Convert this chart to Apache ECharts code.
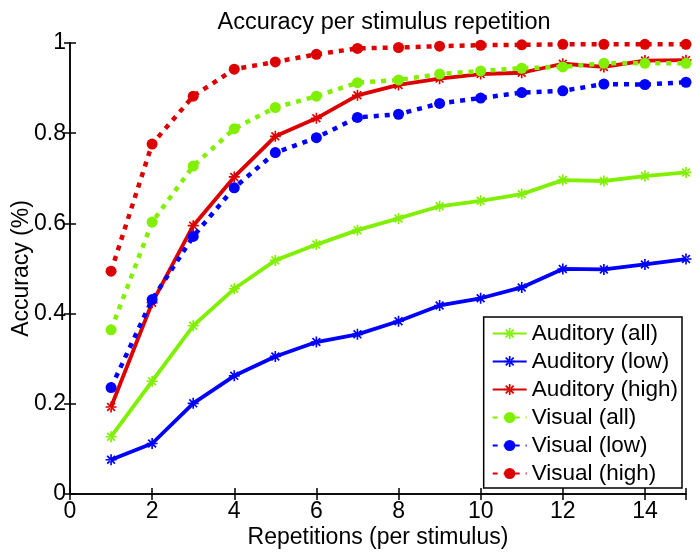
<!DOCTYPE html>
<html><head><meta charset="utf-8">
<script src="https://cdn.jsdelivr.net/npm/echarts@6/dist/echarts.min.js"></script>
<style>html,body{margin:0;padding:0;background:#fff}#c{width:700px;height:553px}</style>
</head><body><div id="c"></div>
<script>
var repetitions = [1,2,3,4,5,6,7,8,9,10,11,12,13,14,15];
var auditoryAll  = [0.127,0.250,0.373,0.455,0.518,0.553,0.585,0.611,0.638,0.650,0.665,0.696,0.694,0.705,0.713];
var auditoryLow  = [0.076,0.112,0.201,0.262,0.305,0.337,0.354,0.383,0.418,0.434,0.458,0.499,0.498,0.509,0.521];
var auditoryHigh = [0.193,0.424,0.595,0.703,0.793,0.833,0.884,0.907,0.921,0.931,0.934,0.954,0.947,0.961,0.962];
var visualAll    = [0.364,0.603,0.727,0.810,0.857,0.882,0.912,0.918,0.931,0.938,0.944,0.947,0.955,0.955,0.955];
var visualLow    = [0.236,0.431,0.571,0.679,0.757,0.790,0.835,0.842,0.866,0.878,0.890,0.894,0.909,0.908,0.913];
var visualHigh   = [0.494,0.776,0.882,0.942,0.958,0.975,0.988,0.990,0.993,0.995,0.996,0.997,0.997,0.997,0.997];
var seriesNames = ['Auditory (all)','Auditory (low)','Auditory (high)','Visual (all)','Visual (low)','Visual (high)'];

var GREEN = '#80f000', BLUE = '#0000ff', RED = '#dd0000';
var star = 'path://M-0.9,-6H0.9V6H-0.9Z M-6,-0.9H6V0.9H-6Z M-4.9,-3.6L-3.6,-4.9L4.9,3.6L3.6,4.9Z M4.9,-3.6L3.6,-4.9L-4.9,3.6L-3.6,4.9Z';
function pairs(ys){ return repetitions.map(function(x,i){ return [x, ys[i]]; }); }
function mk(name, ys, color, dotted){
  return {
    name: name, type: 'line', data: pairs(ys),
    symbol: dotted ? 'circle' : star,
    symbolSize: dotted ? 11 : 11,
    showAllSymbol: true,
    lineStyle: { color: color, width: dotted ? 4.5 : 3.8, type: dotted ? [5,6] : 'solid' },
    itemStyle: { color: color, borderWidth: 0 },
    emphasis: { disabled: true },
    animation: false, z: dotted ? 3 : 2
  };
}
var font = 'Liberation Sans, Arial, Helvetica, sans-serif';
var FS = 23;
var chart = echarts.init(document.getElementById('c'), null, {renderer: 'canvas'});
chart.setOption({
  animation: false,
  backgroundColor: '#fff',
  title: { text: 'Accuracy per stimulus repetition', left: 379, textAlign: 'center', top: 6,
           textStyle: { fontFamily: font, fontSize: 23.5, fontWeight: 'normal', color: '#000' } },
  grid: { left: 70, right: 14, top: 43, bottom: 59, containLabel: false, outerBoundsMode: 'none' },
  legend: {
    data: seriesNames, orient: 'vertical', right: 18, top: 317,
    backgroundColor: '#fff', borderColor: '#000', borderWidth: 1.5,
    padding: [5, 4, 3, 8], itemWidth: 34, itemHeight: 14, itemGap: 5,
    textStyle: { fontFamily: font, fontSize: 22.5, lineHeight: 22, color: '#000' }
  },
  xAxis: [{
    type: 'value', min: 0, max: 15, interval: 2,
    name: 'Repetitions (per stimulus)', nameLocation: 'middle', nameGap: 32, nameMoveOverlap: false,
    nameTextStyle: { fontFamily: font, fontSize: FS, color: '#000' },
    axisLine: { lineStyle: { color: '#000', width: 1.5 } },
    axisTick: { inside: true, length: 6, lineStyle: { color: '#000', width: 1.5 } },
    axisLabel: { fontFamily: font, fontSize: FS, color: '#000', margin: 6,
                 formatter: function(v){ return v === 15 ? '' : String(v); } },
    splitLine: { show: false }
  },{
    type: 'value', position: 'top', min: 0, max: 15, interval: 2,
    axisLine: { show: true, lineStyle: { color: '#000', width: 1.5 } },
    axisTick: { inside: true, length: 6, lineStyle: { color: '#000', width: 1.5 } },
    axisLabel: { show: false }, splitLine: { show: false }
  }],
  yAxis: [{
    type: 'value', min: 0, max: 1, interval: 0.2,
    name: 'Accuracy (%)', nameLocation: 'middle', nameGap: 37, nameMoveOverlap: false,
    nameTextStyle: { fontFamily: font, fontSize: FS, color: '#000' },
    axisLine: { show: true, lineStyle: { color: '#000', width: 1.5 } },
    axisTick: { show: true, inside: true, length: 6, lineStyle: { color: '#000', width: 1.5 } },
    axisLabel: { fontFamily: font, fontSize: FS, color: '#000', margin: 4,
                 formatter: function(v){ return v === 0 ? '0' : (v === 1 ? '1' : v.toFixed(1)); } },
    splitLine: { show: false }
  },{
    type: 'value', position: 'right', min: 0, max: 1, interval: 0.2,
    axisLine: { show: true, lineStyle: { color: '#000', width: 1.5 } },
    axisTick: { show: true, inside: true, length: 6, lineStyle: { color: '#000', width: 1.5 } },
    axisLabel: { show: false }, splitLine: { show: false }
  }],
  series: [
    mk(seriesNames[0], auditoryAll, GREEN, false),
    mk(seriesNames[1], auditoryLow, BLUE, false),
    mk(seriesNames[2], auditoryHigh, RED, false),
    mk(seriesNames[3], visualAll, GREEN, true),
    mk(seriesNames[4], visualLow, BLUE, true),
    mk(seriesNames[5], visualHigh, RED, true)
  ]
});
</script></body></html>
